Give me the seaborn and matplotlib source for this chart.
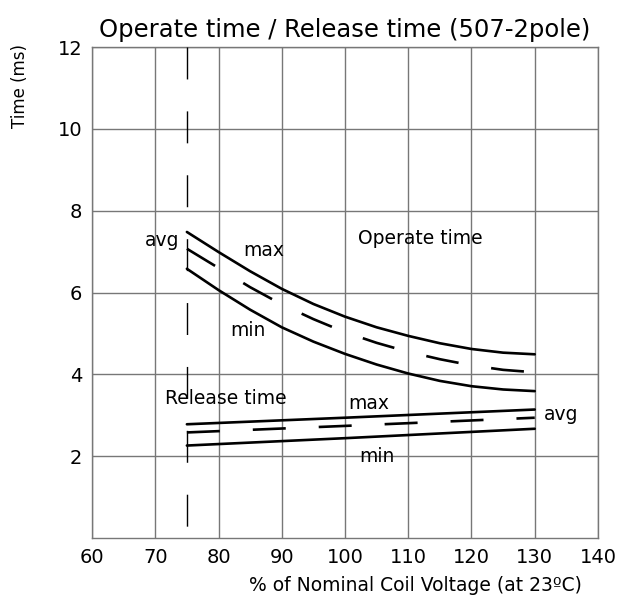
import numpy as np
import pandas as pd
import matplotlib
matplotlib.use("Agg")
import matplotlib.pyplot as plt
import seaborn as sns

# values
voltage = [75, 80, 85, 90, 95, 100, 105, 110, 115, 120, 125, 130]
operate_max = [7.48, 6.99, 6.52, 6.09, 5.72, 5.41, 5.15, 4.94, 4.76, 4.62, 4.53, 4.49]
operate_avg = [7.07, 6.60, 6.13, 5.71, 5.35, 5.03, 4.77, 4.55, 4.37, 4.22, 4.11, 4.05]
operate_min = [6.58, 6.06, 5.58, 5.15, 4.80, 4.50, 4.24, 4.02, 3.84, 3.71, 3.63, 3.59]

release_voltage = [75, 100, 130]
release_max = [2.78, 2.94, 3.14]
release_avg = [2.58, 2.74, 2.94]
release_min = [2.26, 2.44, 2.67]

min_voltage = 75
x_ticks = [60, 70, 80, 90, 100, 110, 120, 130, 140]
y_ticks = [2, 4, 6, 8, 10, 12]

sns.set_style("white")
plt.rcParams['font.family'] = ['DejaVu Sans']
plt.rcParams['text.color'] = 'black'
plt.rcParams['axes.labelcolor'] = 'black'
plt.rcParams['xtick.color'] = 'black'
plt.rcParams['ytick.color'] = 'black'

fig = plt.figure(figsize=(6.18, 5.96), dpi=100)
ax = fig.add_axes([0.1489, 0.0973, 0.8187, 0.8238])

op = pd.DataFrame({"v": voltage, "max": operate_max, "avg": operate_avg, "min": operate_min})
rel = pd.DataFrame({"v": release_voltage, "max": release_max, "avg": release_avg, "min": release_min})

solid = dict(color="black", lw=1.9)
dashed = dict(color="black", lw=1.9, linestyle=(0, (12.5, 12.5)))
for df in (op, rel):
    sns.lineplot(data=df, x="v", y="max", ax=ax, **solid)
    sns.lineplot(data=df, x="v", y="min", ax=ax, **solid)
    sns.lineplot(data=df, x="v", y="avg", ax=ax, **dashed)

ax.plot([min_voltage, min_voltage], [12, 0], color="black", lw=1.0,
        linestyle=(0, (23, 23)), zorder=3)

ax.set_xlim(60, 140)
ax.set_ylim(0, 12)
ax.set_xticks(x_ticks)
ax.set_yticks(y_ticks)
ax.tick_params(labelsize=14, length=0, pad=7)
ax.grid(True, color="#777777", lw=1.0)
ax.set_axisbelow(True)
for s in ax.spines.values():
    s.set_color("#777777")
    s.set_linewidth(1.0)

ax.set_title("Operate time / Release time (507-2pole)", fontsize=17.5, pad=7)
ax.set_ylabel("Time (ms)", fontsize=12)
ax.yaxis.set_label_coords(-0.125, 0.921)
ax.set_xlabel("% of Nominal Coil Voltage (at 23ºC)", fontsize=13.5, ha="right")
ax.xaxis.set_label_coords(0.968, -0.078)

fs = 13.5
ax.text(71.15, 7.27, "avg", fontsize=fs, ha="center", va="center")
ax.text(87.1, 7.02, "max", fontsize=fs, ha="center", va="center")
ax.text(111.9, 7.32, "Operate time", fontsize=fs, ha="center", va="center")
ax.text(84.7, 5.07, "min", fontsize=fs, ha="center", va="center")
ax.text(81.1, 3.41, "Release time", fontsize=fs, ha="center", va="center")
ax.text(103.8, 3.29, "max", fontsize=fs, ha="center", va="center")
ax.text(134.2, 3.02, "avg", fontsize=fs, ha="center", va="center")
ax.text(105.1, 2.0, "min", fontsize=fs, ha="center", va="center")

fig.savefig("out.png", dpi=100)
